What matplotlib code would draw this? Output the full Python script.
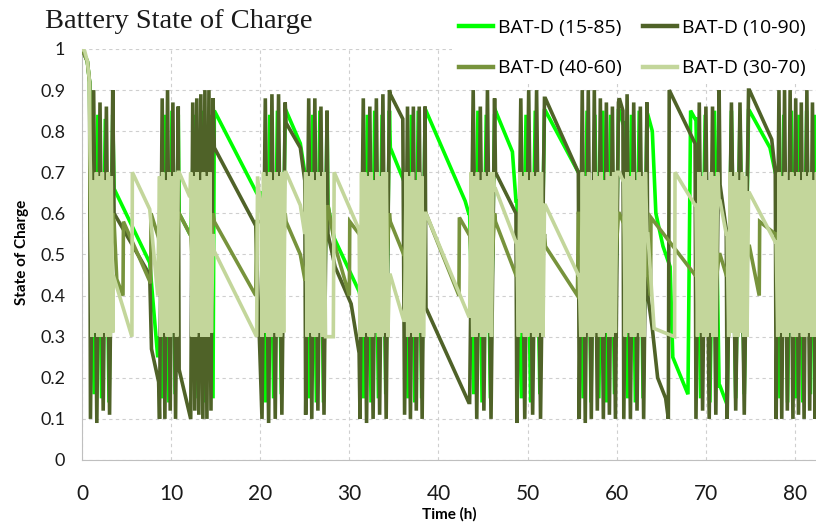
import numpy as np
import matplotlib.pyplot as plt

# active periods (h) where the batteries cycle fast
active_periods = [(0.95, 3.45), (8.7, 10.8), (12.2, 14.7), (20.2, 22.8), (25.1, 27.5),
                  (31.2, 34.5), (36.2, 38.5), (43.5, 46.3), (48.8, 51.9), (55.8, 60.2),
                  (60.8, 63.4), (68.9, 71.5), (72.4, 74.8), (77.9, 82.6)]

# SOC between the active periods, (time h, SOC)
idle_15_85 = [(0, 1.0), (0.6, 0.97), (0.85, 0.92),
              (3.6, 0.66), (7.6, 0.48), (8.5, 0.25),
              (10.9, 0.60), (12.1, 0.55),
              (14.85, 0.85), (19.6, 0.65),
              (22.9, 0.85), (24.5, 0.77), (25.0, 0.70),
              (27.6, 0.62), (28.3, 0.54), (31.1, 0.41),
              (34.6, 0.76), (36.1, 0.68),
              (38.6, 0.85), (43.0, 0.63), (43.4, 0.60),
              (46.4, 0.85), (48.3, 0.75), (48.7, 0.63),
              (52.0, 0.85), (55.7, 0.70),
              (60.3, 0.85), (60.7, 0.82),
              (63.5, 0.84), (64.0, 0.80), (64.4, 0.60), (65.2, 0.52), (66.0, 0.47),
              (66.3, 0.25), (68.0, 0.16), (68.3, 0.85), (68.8, 0.83),
              (71.6, 0.18), (72.3, 0.14),
              (74.9, 0.85), (77.2, 0.76), (77.8, 0.70)]

idle_10_90 = [(0, 1.0), (0.6, 0.97), (0.85, 0.92),
              (3.6, 0.60), (7.6, 0.45), (7.8, 0.27), (8.4, 0.21), (8.6, 0.19),
              (10.9, 0.22), (12.1, 0.11),
              (14.85, 0.76), (19.5, 0.57),
              (22.9, 0.82), (24.5, 0.76), (25.0, 0.68),
              (27.6, 0.55), (28.4, 0.47), (30.2, 0.38), (31.1, 0.26),
              (34.6, 0.89), (36.0, 0.83),
              (38.6, 0.37), (43.4, 0.14),
              (46.4, 0.70), (48.7, 0.60),
              (52.0, 0.88), (55.7, 0.70),
              (60.3, 0.88), (60.7, 0.85),
              (63.5, 0.40), (64.0, 0.32), (64.6, 0.20), (65.5, 0.15), (65.8, 0.10),
              (65.9, 0.90), (68.8, 0.77),
              (71.6, 0.67), (72.3, 0.56),
              (74.9, 0.90), (77.4, 0.78), (77.8, 0.70)]

idle_40_60 = [(0, 1.0), (0.6, 0.97), (0.85, 0.92),
              (3.6, 0.58), (3.9, 0.44), (4.6, 0.40), (4.65, 0.58), (7.7, 0.43),
              (7.75, 0.60), (8.6, 0.54),
              (10.9, 0.60), (12.1, 0.55),
              (14.85, 0.58), (19.5, 0.40), (19.6, 0.58),
              (22.9, 0.58), (24.5, 0.50), (25.0, 0.44),
              (27.6, 0.62), (28.4, 0.52), (30.0, 0.40), (30.05, 0.58), (31.1, 0.55),
              (34.6, 0.58), (36.1, 0.50),
              (38.6, 0.60), (42.3, 0.40), (42.35, 0.59), (43.4, 0.55),
              (46.4, 0.58), (48.7, 0.45),
              (52.0, 0.52), (55.6, 0.40), (55.7, 0.60),
              (60.3, 0.60), (60.7, 0.58),
              (63.5, 0.45), (63.8, 0.40), (63.85, 0.59), (68.8, 0.45),
              (71.6, 0.50), (72.3, 0.45),
              (74.9, 0.52), (76.0, 0.40), (76.05, 0.58), (77.8, 0.55)]

idle_30_70 = [(0, 1.0), (0.3, 0.995), (0.6, 0.97), (0.8, 0.93), (0.9, 0.75),
              (3.5, 0.45), (5.6, 0.30), (5.65, 0.70), (7.6, 0.61), (8.5, 0.40),
              (10.9, 0.70), (12.1, 0.64),
              (14.8, 0.51), (19.6, 0.30), (19.7, 0.69), (20.1, 0.60),
              (22.9, 0.70), (24.5, 0.62), (25.0, 0.55),
              (27.6, 0.30), (28.2, 0.30), (28.3, 0.70), (31.1, 0.56),
              (34.6, 0.45), (36.1, 0.34),
              (38.6, 0.60), (43.4, 0.35),
              (46.4, 0.66), (48.7, 0.53),
              (52.0, 0.62), (55.7, 0.45),
              (60.3, 0.70), (60.7, 0.68),
              (63.5, 0.55), (64.2, 0.32), (66.5, 0.30), (66.55, 0.70), (68.8, 0.62),
              (71.6, 0.63), (72.3, 0.55),
              (74.9, 0.65), (77.8, 0.53)]

# SOC inside each active period
cycles_15_85 = [[.6, .16, .84, .15, .83, .14, .84],
                [.3, .15, .84, .14, .85, .16, .84],
                [.55, .84, .15, .85, .14, .84, .15],
                [.65, .14, .84, .15, .85, .16, .84],
                [.7, .15, .84, .14, .85, .14, .84],
                [.4, .15, .84, .14, .85, .15, .84, .16, .85],
                [.68, .15, .84, .14, .85, .15, .85],
                [.6, .16, .85, .14, .84, .15, .84],
                [.63, .15, .84, .14, .85, .16, .85],
                [.7, .15, .85, .14, .84, .15, .85, .14, .84, .16, .85],
                [.82, .15, .84, .14, .85, .15, .84],
                [.83, .15, .84, .14, .85, .18],
                [.14, .85, .15, .84, .16, .85],
                [.7, .15, .84, .14, .85, .15, .84, .14, .85, .16, .84, .15]]

cycles_10_90 = [[.1, .9, .09, .87, .12, .86, .11, .9],
                [.1, .88, .1, .9, .12, .87, .1, .86],
                [.1, .87, .12, .88, .11, .89, .1, .9, .1, .9, .12, .88],
                [.1, .88, .09, .89, .1, .89, .11, .87],
                [.11, .88, .1, .88, .12, .86, .11, .85],
                [.1, .88, .09, .86, .1, .88, .11, .89, .1, .9],
                [.11, .86, .1, .86, .12, .86, .1, .86],
                [.14, .9, .1, .86, .12, .9, .1, .88],
                [.09, .88, .1, .9, .11, .9, .1, .88],
                [.1, .9, .09, .9, .1, .9, .12, .88, .1, .87, .11, .86, .1, .87],
                [.1, .89, .1, .87, .12, .86, .1, .87],
                [.1, .87, .12, .86, .1, .86, .11, .9],
                [.1, .87, .12, .87, .11, .9],
                [.1, .9, .1, .9, .12, .9, .1, .88, .11, .87, .1, .9, .12, .87, .1, .9]]

cycles_40_60 = [[.55, .4, .6, .4, .6, .4, .6],
                [.5, .6, .4, .6, .4, .6],
                [.55, .4, .6, .4, .6, .4, .6],
                [.58, .4, .6, .4, .6, .4, .6],
                [.44, .6, .4, .6, .4, .6],
                [.55, .4, .6, .4, .6, .4, .6],
                [.5, .4, .6, .4, .6, .6],
                [.55, .4, .6, .4, .6, .4, .6],
                [.45, .6, .4, .6, .4, .55],
                [.6, .4, .6, .4, .6, .4, .6, .4, .6],
                [.58, .4, .6, .4, .6, .45],
                [.45, .6, .4, .6, .4, .5],
                [.45, .6, .4, .6, .4, .52],
                [.55, .4, .6, .4, .6, .4, .6, .4, .6, .4]]

cycles_30_70 = [[.7, .3, .68, .31, .7, .3, .69, .3, .7, .31, .68, .3, .7, .3, .69, .31],
                [.69, .3, .7, .31, .68, .3, .7, .3, .69, .31, .7, .3, .7],
                [.7, .3, .69, .3, .7, .31, .68, .3, .7, .3, .69, .3, .7, .31, .55],
                [.3, .7, .31, .69, .3, .7, .3, .68, .31, .7, .3, .69, .3, .7, .31, .7],
                [.7, .3, .69, .31, .7, .3, .68, .3, .7, .31, .69, .3, .7, .3, .3],
                [.3, .7, .3, .7, .31, .69, .3, .7, .3, .68, .31, .7, .3, .69, .3, .7, .31, .7, .3, .45],
                [.34, .7, .3, .69, .31, .7, .3, .68, .3, .7, .31, .69, .3, .6],
                [.35, .7, .3, .69, .3, .7, .31, .68, .3, .7, .3, .69, .31, .7, .3, .7, .66],
                [.53, .3, .7, .31, .69, .3, .7, .3, .68, .31, .7, .3, .69, .3, .7, .31, .7, .3, .62],
                [.45, .3, .7, .3, .69, .31, .7, .3, .68, .3, .7, .31, .69, .3, .7, .3, .68, .31,
                 .7, .3, .69, .3, .7, .31, .7, .7],
                [.68, .3, .7, .31, .69, .3, .7, .3, .68, .31, .7, .3, .69, .3, .7, .55],
                [.62, .3, .7, .31, .69, .3, .7, .3, .68, .31, .7, .3, .69, .3, .7, .63],
                [.55, .3, .7, .31, .69, .3, .7, .3, .68, .31, .7, .3, .69, .3, .65],
                [.53, .3, .7, .31, .69, .3, .7, .3, .68, .31, .7, .3, .69, .3, .7, .31, .68, .3,
                 .7, .3, .69, .31, .7, .3, .68, .3, .7, .3]]

labels = ['BAT-D (15-85)', 'BAT-D (10-90)', 'BAT-D (40-60)', 'BAT-D (30-70)']
colors = ['#00FF00', '#4F6228', '#77933C', '#C3D69B']


def build_series(idle, cycles):
    t = [p[0] for p in idle]
    v = [p[1] for p in idle]
    for (t0, t1), vals in zip(active_periods, cycles):
        t.extend(np.linspace(t0, t1, len(vals)))
        v.extend(vals)
    t = np.array(t)
    v = np.array(v)
    order = np.argsort(t, kind='stable')
    return t[order], v[order]


series = [build_series(idle_15_85, cycles_15_85),
          build_series(idle_10_90, cycles_10_90),
          build_series(idle_40_60, cycles_40_60),
          build_series(idle_30_70, cycles_30_70)]

fig = plt.figure(figsize=(8.16, 5.23), dpi=100)
ax = fig.add_axes([82 / 816, 1 - 460 / 523, 1 - 82 / 816, 411 / 523])

lines = []
for i, (t, v) in enumerate(series):
    ln, = ax.plot(t, v, color=colors[i], lw=2.6, solid_joinstyle='miter', zorder=2 + i)
    lines.append(ln)

ax.set_xlim(0, 82.37)
ax.set_ylim(0, 1)
ax.set_xticks(np.arange(0, 81, 10))
ax.set_yticks(np.arange(0, 1.01, 0.1))
ax.set_yticklabels(['0', '0.1', '0.2', '0.3', '0.4', '0.5', '0.6', '0.7', '0.8', '0.9', '1'])
ax.grid(True, ls=(0, (3, 3)), color='#CFCFCF', lw=0.8)
ax.set_axisbelow(True)
for s in ['top', 'right']:
    ax.spines[s].set_visible(False)
for s in ['left', 'bottom']:
    ax.spines[s].set_color('#BFBFBF')
ax.tick_params(axis='both', length=0)
ax.tick_params(axis='y', pad=12, labelsize=13)
ax.tick_params(axis='x', pad=17, labelsize=15)
for lab in ax.get_xticklabels() + ax.get_yticklabels():
    lab.set_family('Lato')
    lab.set_color('#1A1A1A')

fig.text(45 / 816, 1 - 28 / 523, 'Battery State of Charge', family='Liberation Serif',
         fontsize=20.5, va='baseline', ha='left', color='#1A1A1A')
fig.text(22 / 816, 1 - 252 / 523, 'State of Charge', family='Lato', weight='bold',
         fontsize=11, rotation=90, ha='center', va='center')
fig.text(449 / 816, 1 - 514 / 523, 'Time (h)', family='Lato', weight='bold',
         fontsize=11, ha='center', va='center')

# legend: row 1 -> 15-85, 10-90 ; row 2 -> 40-60, 30-70
order = [0, 2, 1, 3]
leg = ax.legend([lines[i] for i in order], [labels[i] for i in order], ncol=2,
                loc='upper left', bbox_to_anchor=(452 / 816, 1 - 12 / 523),
                bbox_transform=fig.transFigure, frameon=True, fancybox=False,
                edgecolor='none', facecolor='white', framealpha=1,
                prop={'family': 'Open Sans', 'size': 14}, handlelength=1.75,
                handletextpad=0.26, columnspacing=1.1, labelspacing=1.16,
                borderaxespad=0, borderpad=0.35)
leg.set_zorder(10)
for h in leg.legend_handles:
    h.set_linewidth(3.2)

plt.savefig('out.png', dpi=100)
